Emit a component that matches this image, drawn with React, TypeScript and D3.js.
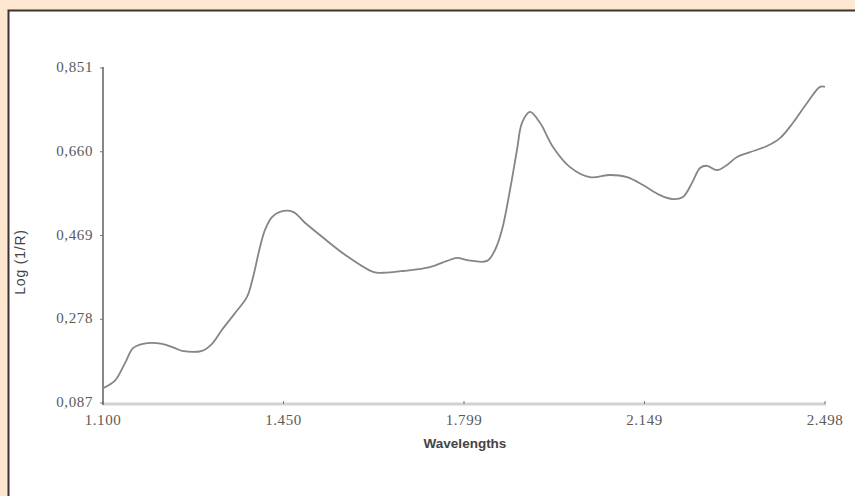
import React, { useEffect } from "react";
import * as d3 from "d3";

const width = 855, height = 496

// spectrum
const wavelengths = [
  1.100, 1.1232, 1.1426, 1.1581, 1.1775, 1.2142, 1.2394, 1.2530, 1.2917, 1.3111,
  1.3304, 1.3556, 1.3788, 1.3905, 1.4040, 1.4137, 1.4272, 1.4427, 1.4679, 1.4911,
  1.5241, 1.5686, 1.6228, 1.6422, 1.6809, 1.7332, 1.7661, 1.7855, 1.8048, 1.8435,
  1.8590, 1.8726, 1.8881, 1.9016, 1.9113, 1.9268, 1.9462, 1.9713, 2.0042, 2.0430,
  2.0817, 2.1146, 2.1456, 2.1785, 2.2037, 2.2230, 2.2405, 2.2560, 2.2695, 2.2889,
  2.3083, 2.3276, 2.3528, 2.3857, 2.4109, 2.4360, 2.4632, 2.4883, 2.498
]
const logR = [
  0.121, 0.138, 0.178, 0.212, 0.222, 0.222, 0.212, 0.206, 0.206, 0.222,
  0.254, 0.292, 0.329, 0.374, 0.443, 0.482, 0.511, 0.523, 0.523, 0.498,
  0.466, 0.425, 0.386, 0.384, 0.388, 0.397, 0.411, 0.418, 0.413, 0.411,
  0.436, 0.482, 0.573, 0.664, 0.726, 0.751, 0.726, 0.671, 0.625, 0.602,
  0.607, 0.602, 0.584, 0.561, 0.552, 0.557, 0.589, 0.623, 0.628, 0.618,
  0.630, 0.648, 0.659, 0.673, 0.691, 0.726, 0.771, 0.808, 0.808
]

const yTicks = [0.087, 0.278, 0.469, 0.660, 0.851]
const yTickLabels = ["0,087", "0,278", "0,469", "0,660", "0,851"]
const xTicks = [1.100, 1.4495, 1.799, 2.1485, 2.498]
const xTickLabels = ["1.100", "1.450", "1.799", "2.149", "2.498"]

const App = () => {

  useEffect(() => {
    document.body.style.margin = "0"
  }, [])

  const xScale = d3.scaleLinear().domain([1.100, 2.498]).range([103, 825])
  const yScale = d3.scaleLinear().domain([0.087, 0.851]).range([403, 68])

  const line = d3.line<number>()
    .x((d, i) => xScale(wavelengths[i]))
    .y(d => yScale(d))
    .curve(d3.curveCatmullRom.alpha(0.5))

  return <svg width={width} height={height} style={{ display: "block" }}>
    <rect x={0} y={0} width={width} height={height} fill="#fde7d1" />
    <rect x={8.5} y={10.5} width={width} height={height} fill="#ffffff" stroke="#3a3330" strokeWidth={2} />

    {/* x axis */}
    <line x1={103} x2={826} y1={404} y2={404} stroke="#d2d2d2" strokeWidth={3} />
    {xTicks.map((t, i) => <g key={i}>
      <line x1={xScale(t)} x2={xScale(t)} y1={401} y2={404} stroke="#777" strokeWidth={1} />
      <text x={xScale(t)} y={425} textAnchor="middle" fontFamily="Liberation Serif" fontSize={15}
        letterSpacing={0.6} fill="#5a5a5a">{xTickLabels[i]}</text>
    </g>)}
    <text x={465} y={448} textAnchor="middle" fontFamily="Liberation Sans" fontSize={13.5}
      fontWeight="bold" fill="#444">Wavelengths</text>

    {/* y axis */}
    <line x1={103} x2={103} y1={67} y2={405} stroke="#6a6a6a" strokeWidth={1.6} />
    {yTicks.map((t, i) => <g key={i}>
      <line x1={100} x2={103} y1={yScale(t)} y2={yScale(t)} stroke="#777" strokeWidth={1} />
      <text x={93} y={yScale(t) + 4} textAnchor="end" fontFamily="Liberation Serif" fontSize={15}
        letterSpacing={0.6} fill="#5a5a5a">{yTickLabels[i]}</text>
    </g>)}
    <text transform="translate(25,262) rotate(-90)" textAnchor="middle" fontFamily="Liberation Sans"
      fontSize={14} letterSpacing={0.8} fill="#444">Log (1/R)</text>

    <path d={line(logR) || ""} fill="none" stroke="#858585" strokeWidth={1.8} />
  </svg>
}

export default App;
